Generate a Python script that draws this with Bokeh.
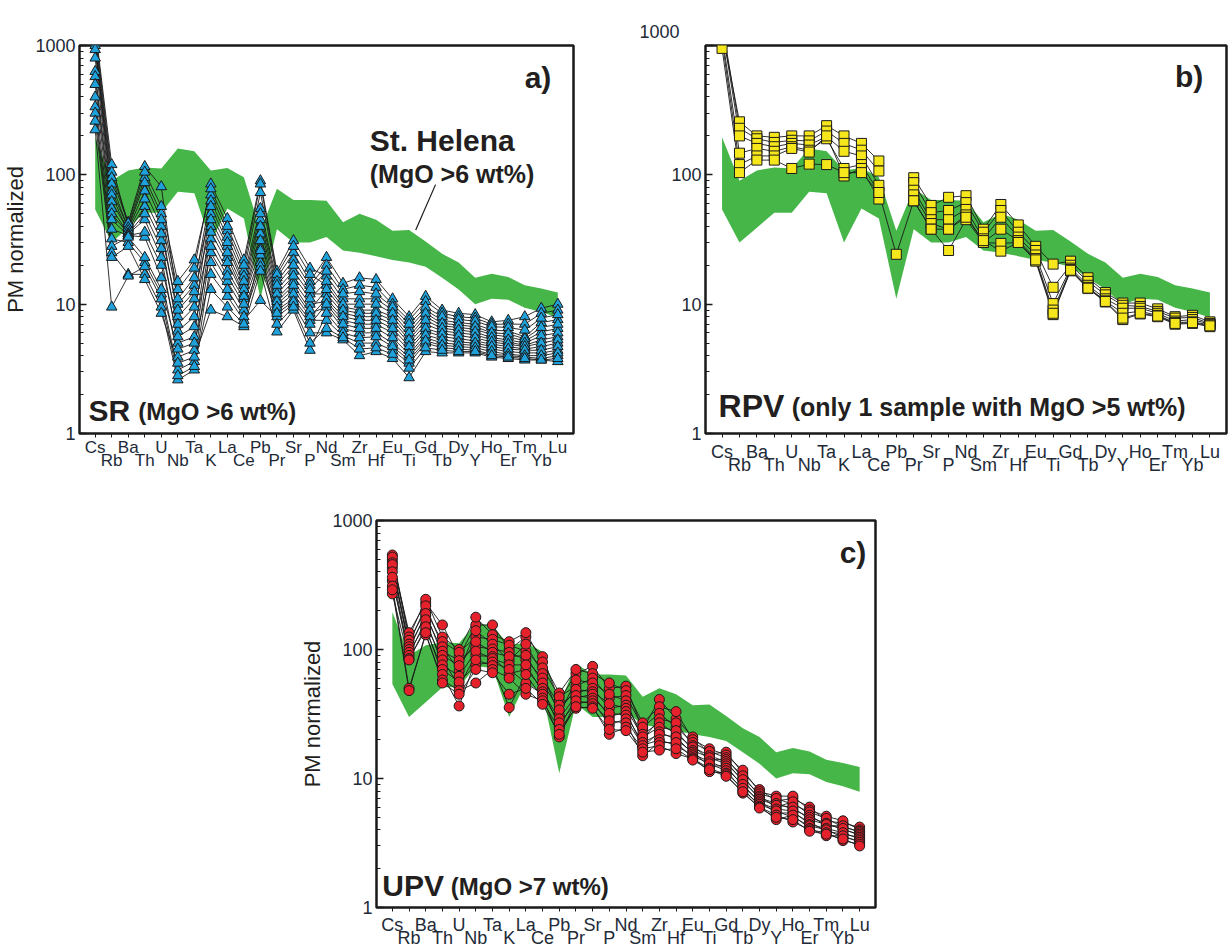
import math
from bokeh.plotting import figure
from bokeh.models import Range1d, LinearAxis, FixedTicker, Label, NumeralTickFormatter, Segment, ColumnDataSource, Title
from bokeh.layouts import column, row
from bokeh.embed import file_html
from bokeh.resources import INLINE

nan = float("nan")

elements = ["Cs", "Rb", "Ba", "Th", "U", "Nb", "Ta", "K", "La", "Ce", "Pb", "Pr", "Sr", "P", "Nd",
            "Sm", "Zr", "Hf", "Eu", "Ti", "Gd", "Tb", "Dy", "Y", "Ho", "Er", "Tm", "Yb", "Lu"]

# St. Helena field (MgO > 6 wt%), upper and lower envelope
sth_upper = [195, 90, 108, 114, 112, 160, 152, 108, 113, 96, 37, 78, 64, 64, 63, 43, 50, 45, 37,
             37.5, 30.5, 24.5, 21, 16, 17.2, 16.2, 14, 13.2, 12.3]
sth_lower = [54, 30, 39, 51, 51, 74, 72, 30, 55, 46, 11, 38, 30, 30, 33, 26, 25, 23.5, 22, 21,
             19.5, 16, 13, 10, 11, 10.8, 9.4, 8.7, 7.9]

# a) SR samples (MgO > 6 wt%)
sr_samples = [
    [1400, 120, 40, 95, 50, 13, 19, 85, 46, 22, 90, 18, 31, 19, 16.5, 11, 11, 11, 9, 6.5, 9, 7.5, 7.2, 7, 6.3, 6.2, 5.6, 7.2, 7.6],
    [1300, 105, 43, 116, 81, 10, 14, 70, 37, 18, 73, 16, 25, 15, 23, 14.5, 16, 15.5, 11, 8, 11.5, 9, 8.5, 8.3, 7.3, 7.5, 8, 9.3, 10],
    [1200, 95, 42, 105, 57, 15, 22, 78, 40, 20, 85, 17, 28, 17, 14, 9.5, 9, 9, 8, 5.6, 8, 6.8, 6.6, 6.4, 5.8, 5.6, 5.2, 6.1, 6.5],
    [1100, 85, 38, 75, 40, 8, 11, 63, 33, 16.5, 55, 15, 22, 14, 20, 13, 14, 13.5, 10, 7.5, 10.5, 8.5, 8, 7.8, 7, 7, 7, 8.5, 9],
    [1050, 75, 39, 87, 45, 11, 16, 50, 28, 14, 45, 13, 18, 12, 12, 8.5, 8, 8, 7, 5, 7, 6.2, 6, 5.8, 5.3, 5.1, 4.8, 5.3, 5.6],
    [1000, 70, 36, 57, 31, 6.2, 8, 57, 30, 15, 50, 14, 20, 13, 18, 12, 12.5, 12, 9.5, 7, 9.5, 8, 7.6, 7.4, 6.7, 6.6, 6.3, 7.8, 8.3],
    [930, 62, 37, 65, 35, 9, 12.5, 40, 23, 12, 35, 11, 15, 10, 10.5, 7.5, 7, 7, 6, 4.4, 6.2, 5.6, 5.4, 5.2, 4.9, 4.7, 4.5, 4.7, 5],
    [800, 55, 35, 45, 23, 5, 5.6, 45, 25, 13, 40, 12, 16.5, 11, 15, 10, 10, 10, 8.5, 6, 8.5, 7.1, 6.9, 6.7, 6, 5.9, 5.4, 6.6, 7],
    [630, 50, 35, 50, 27, 7, 9.5, 32, 18, 11, 27, 10, 13, 8.5, 9.5, 6.5, 6, 6, 5, 3.9, 5.5, 5, 4.9, 4.8, 4.5, 4.3, 4.2, 4.2, 4.4],
    [575, 45, 34, 33, 16, 3.9, 4.4, 36, 21, 11.5, 31, 10.5, 14, 9, 13, 9, 8.5, 8.5, 7.5, 5.3, 7.5, 6.5, 6.3, 6.1, 5.5, 5.3, 5, 5.7, 6],
    [500, 38, 34, 36, 20, 5.6, 6.7, 25, 15, 9, 21, 9, 11, 7.5, 7.5, 5.7, 5, 5, 4.4, 3.5, 5, 4.6, 4.5, 4.4, 4.1, 4, 3.9, 3.8, 4],
    [400, 32, 30, 21, 12, 3.1, 3.6, 28, 16.5, 10, 24, 9.5, 12, 8, 11, 8, 7.5, 7.5, 6.5, 4.7, 6.5, 5.9, 5.7, 5.5, 5.1, 4.9, 4.7, 5, 5.3],
    [336, 28, 33, 23, 13, 4.5, 5, 17, 11.5, 7.5, 10.7, 8, 10, 6, 6, 5.3, 4, 4.3, 3.8, 2.7, 4.3, 4.2, 4.2, 4.2, 3.9, 3.8, 3.7, 3.7, 3.6],
    [300, 25, 17, 17, 9.5, 2.6, 3.1, 21, 13, 8, 19.5, 8.5, 10.5, 7, 10, 7, 6.5, 6.5, 5.5, 4.1, 5.8, 5.3, 5.1, 5, 4.7, 4.5, 4.4, 4.4, 4.7],
    [260, 23, 28, 15.5, 8.5, 3.5, 3.9, 9, 8, 6.7, 18, 6.1, 9, 4.4, 8.5, 6, 5.5, 5.6, 4.7, 3.7, 5.2, 4.8, 4.7, 4.6, 4.3, 4.1, 4.0, 4, 4.2],
    [223, 9.5, 16.5, 19.5, 11, 2.8, 3.3, 13, 9.5, 7, 26, 7, 9.5, 5, 6.5, 5.5, 4.5, 4.6, 4.1, 3.2, 4.6, 4.4, 4.3, 4.3, 4, 3.9, 3.8, 3.7, 3.8],
]

# b) RPV samples
rpv_samples = [
    [1300, 257, 200, 195, 200, 200, 240, 200, 175, 128, nan, 95, 58, 67, 69, 38, 59, 41, 28, 20.4, 21.5, 16, 12.3, 10.2, 10.2, 9.2, 8, 8.2, 7.3],
    [1500, 229, 190, 178, 185, 183, 218, 175, 155, 107, nan, 87, 51, 53, 61, 36, 53, 36, 26, 13.5, 20, 15, 11.8, 9.8, 9.6, 8.8, 7.8, 7.9, 7.1],
    [1400, 200, 175, 165, 175, 170, 198, 152, 140, 83, nan, 76, 45, 45, 54, 32, 47, 33, 24, 10.1, 19, 14, 11, 9.3, 9.3, 8.5, 7.4, 7.6, 7.0],
    [1200, 147, 160, 152, 165, 155, 190, 112, 120, 73, nan, 70, 42, 38, 49, 30, 38, 31, 22.5, 9, 18.5, 13.5, 10.6, 8.5, 8.8, 8.2, 7.2, 7.3, 6.9],
    [1100, 120, 140, 140, 160, 150, 200, 98, 112, 65, nan, 63, 38, 26, 45, 30, 29.5, 30, 21.5, 8.3, 18.1, 13.2, 10.4, 7.6, 8.4, 8.0, 7.0, 7.1, 6.7],
    [950, 104, 130, 130, 112, 121, 120, 104, 104, 73, 24.3, 63, 38, 38, 47, 31, 25.7, 30, 22, 8.5, 18.3, 13.3, 10.5, 7.8, 8.5, 8.1, 7.1, 7.2, 6.8],
]

# c) UPV samples (MgO > 7 wt%)
upv_samples = [
    [495, 135, 230, 155, 88, 155, 155, 100, 125, 88, 40, 65, 74, 50, 52, 24, 41, 29, 21, 15.5, 16, 11, 8.2, 6.7, 7, 6, 4.7, 4.5, 4.2],
    [540, 125, 245, 125, 100, 178, 130, 115, 135, 80, 46, 70, 65, 55, 48, 27, 36, 33, 20, 17, 15.2, 11.6, 7.9, 7.3, 7.3, 5.7, 5.1, 4.7, 4.0],
    [520, 118, 200, 115, 95, 125, 120, 108, 97, 72, 43, 52, 60, 42, 44, 25, 32, 25, 19, 16.2, 14.5, 10, 7.6, 7, 6.3, 5.5, 4.9, 4.2, 3.9],
    [430, 110, 218, 105, 68, 140, 110, 82, 110, 65, 31, 58, 55, 45, 40, 20, 29, 27, 18, 14, 14, 10.5, 7.3, 6, 6.6, 5.2, 4.3, 4.3, 3.8],
    [470, 105, 183, 97, 82, 105, 101, 95, 83, 60, 37, 46, 50, 35, 37, 22, 27, 22, 17.5, 15, 13.5, 9.5, 7.1, 6.4, 5.8, 5, 4.5, 4, 3.7],
    [455, 100, 190, 90, 75, 115, 95, 88, 90, 55, 34, 49, 47, 38, 35, 21, 25, 23.5, 16.5, 14.5, 13, 9.8, 6.9, 6.2, 6, 4.8, 4.4, 4.1, 3.6],
    [340, 95, 158, 83, 52, 90, 88, 65, 70, 50, 25, 42, 45, 30, 33, 17.5, 23, 20, 16, 12.5, 12.5, 8.7, 6.7, 5.4, 5.4, 4.6, 3.9, 3.7, 3.5],
    [400, 90, 170, 76, 62, 97, 85, 76, 76, 47, 29, 44, 42, 32, 31, 19, 22, 21, 15.5, 13.5, 12, 9, 6.5, 5.8, 5.6, 4.4, 4.1, 3.8, 3.4],
    [363, 85, 142, 70, 56, 76, 80, 70, 55, 45, 27, 38, 40, 26, 29, 18, 20, 18, 15, 13, 11.5, 8.1, 6.3, 5.6, 5, 4.3, 4, 3.5, 3.3],
    [270, 83, 150, 64, 36.5, 83, 75, 35.5, 64, 42, 21, 40, 38, 28, 27, 15, 19, 19, 14.5, 11.3, 11, 8.4, 6.1, 4.8, 5.2, 4.1, 3.6, 3.6, 3.2],
    [310, 50, 130, 58, 48, 55, 70, 60, 45, 40, 24, 35, 36, 22, 25, 17, 18, 15.6, 14.2, 12, 10.7, 7.7, 6, 5.2, 4.6, 4, 3.8, 3.3, 3.1],
    [290, 48, 135, 55, 45, 70, 66, 45, 50, 37.6, 22, 36, 35, 24, 23.5, 16, 16.6, 17, 13.9, 11.7, 10.4, 7.9, 5.9, 5, 4.8, 3.9, 3.7, 3.4, 3.0],
]

FONT = "Liberation Sans"
TICK_COLOR = "#222a38"
TEXT_COLOR = "#231f20"
GREEN = "#47b649"
idx = list(range(len(elements)))


def make_panel(width, height, left, right, top, bottom, ylabel, xfont, s1, s2):
    p = figure(width=width, height=height, y_axis_type="log", x_axis_type=None,
               x_range=Range1d(-0.95, 28.95), y_range=Range1d(1, 1000),
               output_backend="svg", toolbar_location=None,
               min_border_left=left, min_border_right=right,
               min_border_top=top, min_border_bottom=bottom)
    p.ygrid.visible = False
    p.background_fill_color = "white"
    p.border_fill_color = "white"
    p.outline_line_color = "#1a1a1a"
    p.outline_line_width = 2.5
    ya = p.yaxis[0]
    ya.axis_line_color = None
    ya.formatter = NumeralTickFormatter(format="0")
    ya.major_tick_in = 7
    ya.major_tick_out = 0
    ya.minor_tick_in = 4
    ya.minor_tick_out = 0
    ya.major_tick_line_color = "#1a1a1a"
    ya.minor_tick_line_color = "#1a1a1a"
    ya.major_tick_line_width = 1.5
    ya.major_label_text_font = FONT
    ya.major_label_text_font_size = "18px"
    ya.major_label_text_color = TICK_COLOR
    ya.major_label_standoff = 4
    if ylabel:
        ya.axis_label = ylabel
        ya.axis_label_text_font = FONT
        ya.axis_label_text_font_size = "22px"
        ya.axis_label_text_font_style = "normal"
        ya.axis_label_text_color = TEXT_COLOR
        ya.axis_label_standoff = 4

    top_labels = {i: (elements[i] if i % 2 == 0 else "") for i in idx}
    odd = [i for i in idx if i % 2 == 1]
    bot_labels = {i: elements[i] for i in odd}
    ax1 = LinearAxis(ticker=FixedTicker(ticks=idx), major_label_overrides=top_labels)
    ax2 = LinearAxis(ticker=FixedTicker(ticks=odd), major_label_overrides=bot_labels)
    for ax in (ax1, ax2):
        ax.axis_line_color = None
        ax.major_label_text_font = FONT
        ax.major_label_text_font_size = xfont
        ax.major_label_text_color = TICK_COLOR
        ax.minor_tick_line_color = None
    ax1.major_tick_in = 0
    ax1.major_tick_out = 4
    ax1.major_tick_line_color = "#1a1a1a"
    ax1.major_label_standoff = s1
    ax2.major_tick_line_color = None
    ax2.major_tick_in = 0
    ax2.major_tick_out = 0
    ax2.major_label_standoff = s2
    p.add_layout(ax1, "below")
    p.add_layout(ax2, "below")

    p.varea(x=idx, y1=sth_lower, y2=sth_upper, fill_color=GREEN, fill_alpha=1.0)
    return p


def draw_samples(p, samples, marker, fill, size):
    for s in samples:
        p.line(idx, s, line_color="#1a1a1a", line_width=0.9)
    for s in samples:
        p.scatter(idx, s, marker=marker, size=size, fill_color=fill, line_color="#1a1a1a", line_width=1)


def add_text(p, x, y, text, size, bold=True, align="left", baseline="middle", color=TEXT_COLOR):
    p.add_layout(Label(x=x, y=y, text=text, text_font=FONT, text_font_size=size,
                       text_font_style="bold" if bold else "normal", text_align=align,
                       text_baseline=baseline, text_color=color))


# ---- panel a
pa = make_panel(583, 478, 73, 10, 45, 45, "PM normalized", "17px", 0, -9)
draw_samples(pa, sr_samples, "triangle", "#1fa2dc", 10.5)
add_text(pa, 26.8, 565, "a)", "30px", align="center")
add_text(pa, 21.0, 184, "St. Helena", "30px", align="center")
add_text(pa, 21.6, 102, "(MgO >6 wt%)", "25px", align="center")
pa.add_glyph(ColumnDataSource(dict(x0=[20.6], y0=[84], x1=[19.4], y1=[37.5])),
             Segment(x0="x0", y0="y0", x1="x1", y1="y1", line_color="#1a1a1a", line_width=1.2))
add_text(pa, -0.4, 1.51, "SR", "30px")
add_text(pa, 2.6, 1.49, "(MgO >6 wt%)", "24px")

# ---- panel b
pb = make_panel(647, 478, 122, 4, 40, 42, None, "18px", 4, -10)
pb.yaxis[0].major_label_overrides = {1000: ""}
pb.add_layout(Title(text="1000", align="left", offset=-66, standoff=15, text_font=FONT,
                    text_font_size="18px", text_font_style="normal", text_color=TICK_COLOR), "above")
draw_samples(pb, rpv_samples, "square", "#f6e61c", 10)
add_text(pb, 26.8, 573, "b)", "30px", align="center")
add_text(pb, -0.2, 1.63, "RPV", "32px")
add_text(pb, 4.0, 1.60, "(only 1 sample with MgO >5 wt%)", "25px")

# ---- panel c
pc = make_panel(885, 472, 376, 10, 42, 37, "PM normalized", "18px", 3, -10)
draw_samples(pc, upv_samples, "circle", "#e5212b", 10)
add_text(pc, 27.6, 560, "c)", "30px", align="center")
add_text(pc, -0.6, 1.47, "UPV", "30px")
add_text(pc, 3.5, 1.45, "(MgO >7 wt%)", "24px")

layout = column(row(pa, pb), pc)
open("out.html", "w").write(file_html(layout, INLINE))
